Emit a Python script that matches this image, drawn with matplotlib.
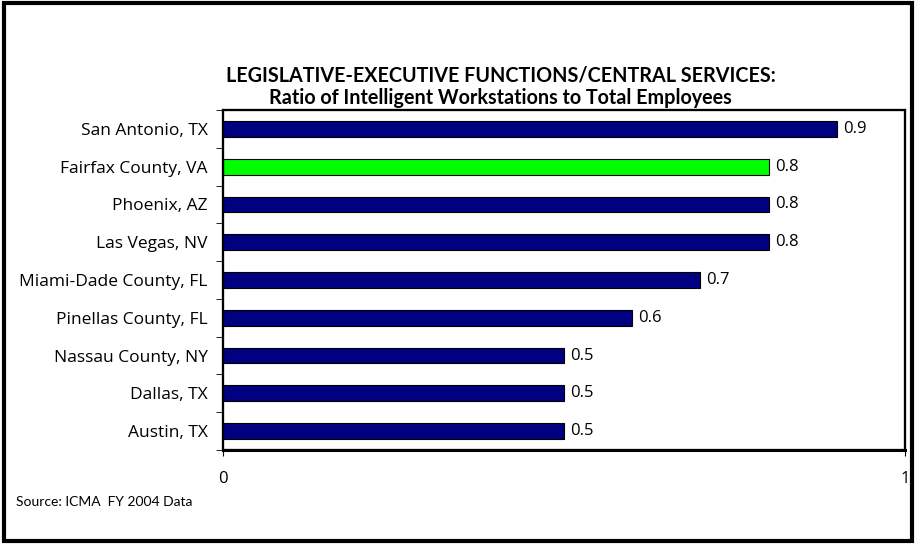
import matplotlib
matplotlib.use("Agg")
import matplotlib.pyplot as plt
import numpy as np
from matplotlib.patches import Rectangle

plt.rcParams['font.family'] = ['Open Sans', 'DejaVu Sans']

# data (top to bottom)
cities = ['San Antonio, TX', 'Fairfax County, VA', 'Phoenix, AZ', 'Las Vegas, NV',
          'Miami-Dade County, FL', 'Pinellas County, FL', 'Nassau County, NY',
          'Dallas, TX', 'Austin, TX']
ratios = [0.9, 0.8, 0.8, 0.8, 0.7, 0.6, 0.5, 0.5, 0.5]
highlight = 'Fairfax County, VA'
x_ticks = [0, 1]

fig = plt.figure(figsize=(9.17, 5.44), dpi=100)
ax = fig.add_axes([0.2432, 0.1728, 0.7437, 0.625])

# plot bottom-up so the first city sits on top
ypos = np.arange(len(cities))[::-1]
colors = ['#00FF00' if c == highlight else '#000080' for c in cities]
ax.barh(ypos, ratios, height=0.42, color=colors, edgecolor='black', linewidth=0.8)

for y, v in zip(ypos, ratios):
    ax.text(v + 0.009, y, f'{v:.1f}', va='center', ha='left', fontsize=12)

ax.set_xlim(0, 1)
ax.set_ylim(-0.5, len(cities) - 0.5)
ax.set_yticks(ypos)
ax.set_yticklabels(cities, fontsize=12.5)
ax.set_yticks(np.arange(-0.5, len(cities), 1), minor=True)
ax.tick_params(axis='y', which='major', length=0, pad=11)
ax.tick_params(axis='y', which='minor', length=5, direction='out')
ax.set_xticks(x_ticks)
ax.set_xticklabels([str(t) for t in x_ticks], fontsize=12)
ax.tick_params(axis='x', length=4, direction='out', pad=11)

for side in ['top', 'right', 'left']:
    ax.spines[side].set_linewidth(1.5)
    ax.spines[side].set_color('black')
ax.spines['bottom'].set_linewidth(2.2)
# plot area box
ax.add_patch(Rectangle((0, 0), 1, 1, transform=ax.transAxes, fill=False,
                       edgecolor='black', linewidth=1.6, clip_on=False, zorder=5))

fig.text(0.546, 0.862, 'LEGISLATIVE-EXECUTIVE FUNCTIONS/CENTRAL SERVICES:',
         ha='center', va='center', fontsize=14.2, fontweight='bold', family=['Lato', 'DejaVu Sans'])
fig.text(0.546, 0.819, 'Ratio of Intelligent Workstations to Total Employees',
         ha='center', va='center', fontsize=14.2, fontweight='bold', family=['Lato', 'DejaVu Sans'])
fig.text(0.017, 0.077, 'Source: ICMA  FY 2004 Data', ha='left', va='center', fontsize=10,
         family=['Lato', 'DejaVu Sans'])

# outer frame
fig.patches.append(Rectangle((0.004, 0.006), 0.991, 0.989, transform=fig.transFigure,
                             fill=False, edgecolor='black', linewidth=3))

fig.savefig('out.png', dpi=100)
